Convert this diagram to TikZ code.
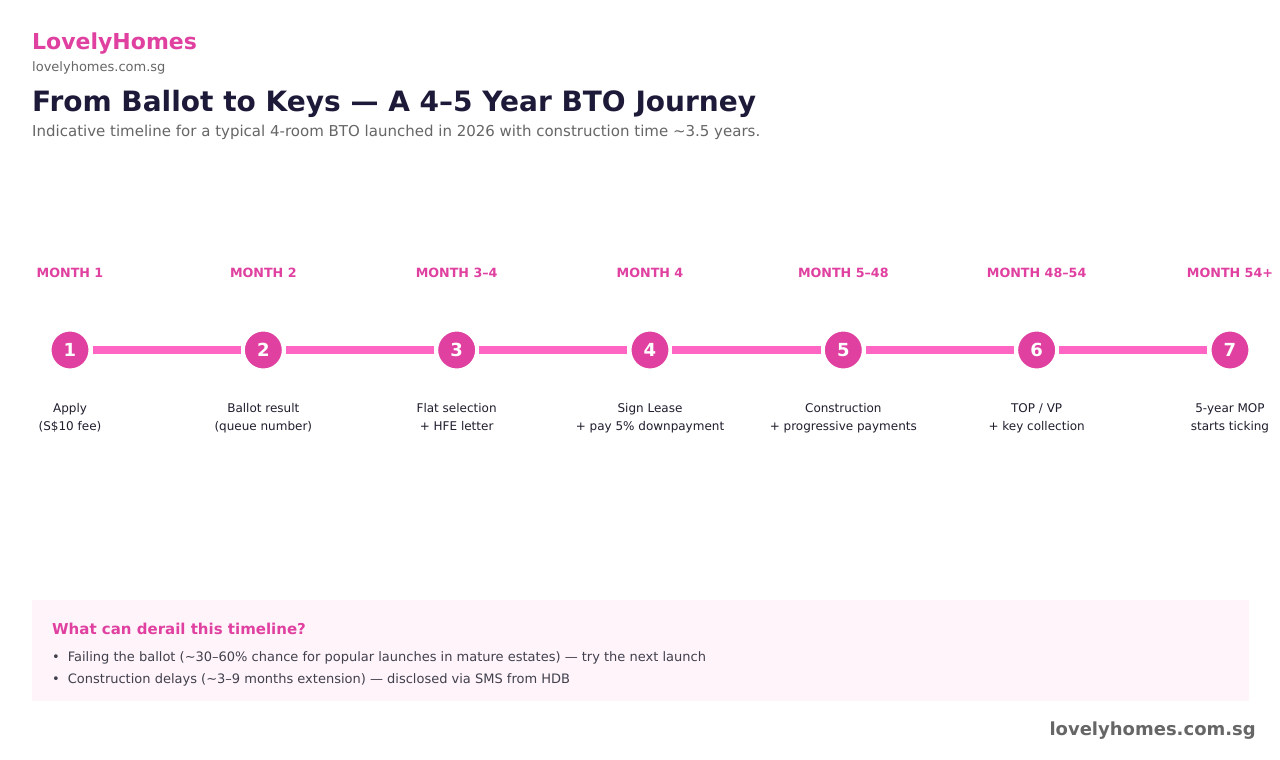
\documentclass[tikz,border=0pt]{standalone}
\usepackage{fontspec}
\setmainfont{DejaVu Sans}
\usetikzlibrary{positioning}
\definecolor{brandPink}{HTML}{E040A0}
\definecolor{trackPink}{HTML}{FF66C4}
\definecolor{titleColor}{HTML}{1C1A38}
\definecolor{greyColor}{HTML}{666666}
\definecolor{bodyColor}{HTML}{1E1E2E}
\definecolor{panelColor}{HTML}{FFF4FA}
\tikzstyle{journey} = [x = 1pt, y = -1pt]
\tikzstyle{stepCircle} = [circle, fill=brandPink, draw=white, line width=4pt, minimum size=41pt, inner sep=0pt, text=white, font=\fontsize{18}{18}\selectfont\bfseries]
\tikzstyle{trackLine} = [color=trackPink, line width=8pt]
\tikzstyle{monthText} = [text=brandPink, anchor=base, inner sep=0pt, font=\fontsize{12.7}{15}\selectfont\bfseries]
\tikzstyle{stepText} = [text=bodyColor, align=center, inner sep=0pt, execute at begin node=\strut, execute at end node=\strut, font=\fontsize{12}{18}\selectfont]
\tikzstyle{brandText} = [text=brandPink, anchor=base west, inner sep=0pt, font=\fontsize{22}{26}\selectfont\bfseries]
\tikzstyle{siteText} = [text=greyColor, anchor=base west, inner sep=0pt, font=\fontsize{13}{16}\selectfont]
\tikzstyle{titleText} = [text=titleColor, anchor=base west, inner sep=0pt, font=\fontsize{28}{32}\selectfont\bfseries]
\tikzstyle{subtitleText} = [text=greyColor, anchor=base west, inner sep=0pt, font=\fontsize{15}{18}\selectfont]
\tikzstyle{panelHead} = [text=brandPink, anchor=base west, inner sep=0pt, font=\fontsize{15}{18}\selectfont\bfseries]
\tikzstyle{riskText} = [text=bodyColor!85, anchor=base west, inner sep=0pt, font=\fontsize{13}{16}\selectfont]
\tikzstyle{footerText} = [text=greyColor, anchor=base east, inner sep=0pt, font=\fontsize{18}{22}\selectfont\bfseries]
\newcommand{\stepGap}{193.33}
\newcommand{\riskBullet}{\textbullet\hspace{8pt}}

\begin{document}
\begin{tikzpicture}[journey]
    \useasboundingbox (0,0) rectangle (1280,760);
    \fill [white] (0,0) rectangle (1280,760);
    \node [brandText] (brand) at (32,50) {LovelyHomes};
    \node [siteText] (site) at (32,71) {lovelyhomes.com.sg};
    \node [titleText] (title) at (32,111.5) {From Ballot to Keys — A 4–5 Year BTO Journey};
    \node [subtitleText] (subtitle) at (32,136) {Indicative timeline for a typical 4-room BTO launched in 2026 with construction time \textasciitilde3.5 years.};
    \foreach \i/\monthLabel/\stepLabel in {1/MONTH 1/{Apply\\(S\$10 fee)},
                                          2/MONTH 2/{Ballot result\\(queue number)},
                                          3/MONTH 3–4/{Flat selection\\+ HFE letter},
                                          4/MONTH 4/{Sign Lease\\+ pay 5\% downpayment},
                                          5/MONTH 5–48/{Construction\\+ progressive payments},
                                          6/MONTH 48–54/{TOP / VP\\+ key collection},
                                          7/MONTH 54+/{5-year MOP\\starts ticking}} {
      \pgfmathsetmacro{\xPos}{70 + (\i - 1) * \stepGap}
      \node [stepCircle] (step\i) at (\xPos, 350) {\i};
      \node [monthText] (month\i) at ([yshift=73pt]step\i.center) {\monthLabel};
      \node [stepText] (what\i) at ([yshift=-69.4pt]step\i.center) {\stepLabel};
    }
    \foreach \i [evaluate=\i as \next using int(\i + 1)] in {1,...,6} {
      \draw [trackLine] (step\i) -- (step\next);
    }
    \fill [panelColor] (32,600) rectangle (1249,701);
    \node [panelHead] (derail) at (52,634) {What can derail this timeline?};
    \node [riskText] (risk1) at (52,661) {\riskBullet Failing the ballot (\textasciitilde30–60\% chance for popular launches in mature estates) — try the next launch};
    \node [riskText, below=22pt of risk1.base west, anchor=base west] (risk2) {\riskBullet Construction delays (\textasciitilde3–9 months extension) — disclosed via SMS from HDB};
    \node [footerText] (footer) at (1256,735) {lovelyhomes.com.sg};
\end{tikzpicture}
\end{document}
